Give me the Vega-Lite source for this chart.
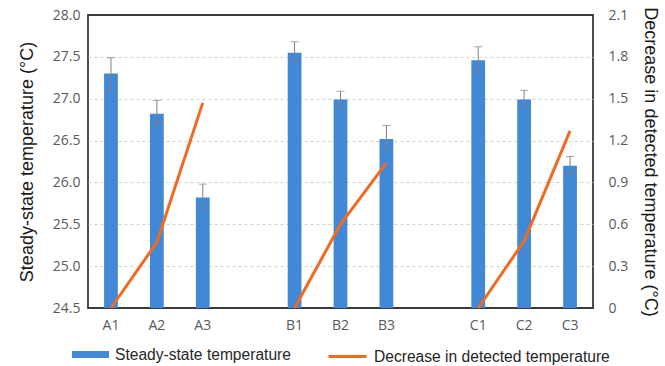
{
  "$schema": "https://vega.github.io/schema/vega-lite/v6.json",
  "width": 505,
  "height": 293,
  "autosize": "none",
  "padding": {"left": 88, "top": 15, "right": 72, "bottom": 58},
  "config": {
    "view": {"stroke": "#3a3a3a", "strokeWidth": 1.8},
    "font": "Liberation Sans",
    "legend": {
      "orient": "bottom",
      "direction": "horizontal",
      "labelFontSize": 15.6,
      "labelFont": "Liberation Sans",
      "labelColor": "#262626",
      "labelOffset": 6,
      "labelLimit": 400,
      "offset": 4,
      "layout": {"bottom": {"anchor": "middle", "direction": "horizontal", "margin": 36}}
    }
  },
  "data": {
    "values": [
      {"cat": "A1", "grp": "A", "temp": 27.3, "lo": 27.1, "hi": 27.49, "dec": 0},
      {"cat": "A2", "grp": "A", "temp": 26.82, "lo": 26.67, "hi": 26.98, "dec": 0.47},
      {"cat": "A3", "grp": "A", "temp": 25.82, "lo": 25.67, "hi": 25.98, "dec": 1.47},
      {"cat": "B1", "grp": "B", "temp": 27.55, "lo": 27.45, "hi": 27.68, "dec": 0},
      {"cat": "B2", "grp": "B", "temp": 26.99, "lo": 26.91, "hi": 27.09, "dec": 0.6},
      {"cat": "B3", "grp": "B", "temp": 26.52, "lo": 26.38, "hi": 26.68, "dec": 1.04},
      {"cat": "C1", "grp": "C", "temp": 27.46, "lo": 27.31, "hi": 27.62, "dec": 0},
      {"cat": "C2", "grp": "C", "temp": 26.99, "lo": 26.9, "hi": 27.1, "dec": 0.48},
      {"cat": "C3", "grp": "C", "temp": 26.2, "lo": 26.09, "hi": 26.31, "dec": 1.27}
    ]
  },
  "encoding": {
    "x": {
      "field": "cat",
      "type": "nominal",
      "scale": {
        "domain": ["A1", "A2", "A3", "g1", "B1", "B2", "B3", "g2", "C1", "C2", "C3"],
        "paddingInner": 0,
        "paddingOuter": 0
      },
      "axis": {
        "title": null,
        "labelExpr": "indexof(datum.value, 'g') === 0 ? '' : datum.value",
        "labelAngle": 0,
        "labelFont": "Open Sans",
        "labelFontSize": 14,
        "labelColor": "#595959",
        "labelPadding": 10,
        "ticks": false,
        "domain": false,
        "grid": false
      }
    }
  },
  "layer": [
    {
      "encoding": {
        "y": {
          "type": "quantitative",
          "scale": {"domain": [24.5, 28], "nice": false, "zero": false},
          "axis": {
            "title": "Steady-state temperature (°C)",
            "titleFont": "Liberation Sans",
            "titleFontSize": 18,
            "titleFontWeight": "normal",
            "titleColor": "#1a1a1a",
            "titlePadding": 16,
            "values": [24.5, 25, 25.5, 26, 26.5, 27, 27.5, 28],
            "format": ".1f",
            "labelFont": "Open Sans",
            "labelFontSize": 14,
            "labelColor": "#595959",
            "labelPadding": 8,
            "ticks": false,
            "domain": false,
            "grid": true,
            "gridColor": "#d0d0d0",
            "gridDash": [3, 3],
            "gridWidth": 1,
            "gridOpacity": {"condition": {"test": "datum.value >= 28 || datum.value <= 24.5", "value": 0}, "value": 1}
          }
        }
      },
      "layer": [
        {
          "mark": {"type": "bar", "width": {"band": 0.3}},
          "encoding": {
            "y": {"field": "temp", "type": "quantitative"},
            "y2": {"datum": 24.5},
            "fill": {
              "datum": "Steady-state temperature",
              "type": "nominal",
              "scale": {"range": ["#4189D6"]},
              "legend": {
                "title": null,
                "symbolType": "M-1,-0.19H1V0.19H-1Z",
                "symbolSize": 1369,
                "symbolStrokeWidth": 0,
                "symbolOpacity": 1
              }
            }
          }
        },
        {
          "mark": {"type": "rule", "color": "#808080", "strokeWidth": 1},
          "encoding": {
            "y": {"field": "lo", "type": "quantitative"},
            "y2": {"field": "hi"}
          }
        },
        {
          "mark": {"type": "tick", "color": "#808080", "size": 8, "thickness": 1, "orient": "horizontal"},
          "encoding": {"y": {"field": "lo", "type": "quantitative"}}
        },
        {
          "mark": {"type": "tick", "color": "#808080", "size": 8, "thickness": 1, "orient": "horizontal"},
          "encoding": {"y": {"field": "hi", "type": "quantitative"}}
        }
      ]
    },
    {
      "mark": {"type": "line", "strokeWidth": 3},
      "encoding": {
        "y": {
          "field": "dec",
          "type": "quantitative",
          "scale": {"domain": [0, 2.1], "nice": false},
          "axis": {
            "orient": "right",
            "title": "Decrease in detected temperature (°C)",
            "titleFont": "Liberation Sans",
            "titleFontSize": 18,
            "titleFontWeight": "normal",
            "titleColor": "#1a1a1a",
            "titlePadding": 13,
            "values": [0, 0.3, 0.6, 0.9, 1.2, 1.5, 1.8, 2.1],
            "format": ".1~f",
            "labelFont": "Open Sans",
            "labelFontSize": 14,
            "labelColor": "#595959",
            "labelPadding": 15,
            "ticks": false,
            "domain": false,
            "grid": false
          }
        },
        "detail": {"field": "grp"},
        "stroke": {
          "datum": "Decrease in detected temperature",
          "type": "nominal",
          "scale": {"range": ["#F26A21"]},
          "legend": {
            "title": null,
            "symbolType": "stroke",
            "symbolSize": 1444,
            "symbolStrokeWidth": 3
          }
        }
      }
    }
  ],
  "resolve": {"scale": {"y": "independent", "fill": "independent", "stroke": "independent"}}
}
